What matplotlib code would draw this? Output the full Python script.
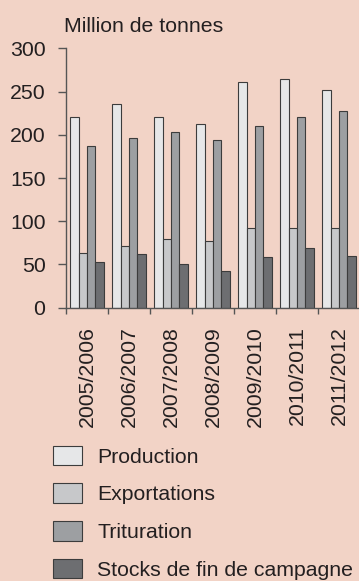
import numpy as np
import matplotlib
matplotlib.use('Agg')
import matplotlib.pyplot as plt

# Données (millions de tonnes)
campagnes = ['2005/2006', '2006/2007', '2007/2008', '2008/2009',
             '2009/2010', '2010/2011', '2011/2012']
production = [221, 236, 221, 212, 261, 264, 252]
exportations = [63, 71, 79, 77, 92, 92, 92]
trituration = [187, 196, 203, 194, 210, 221, 228]
stocks = [53, 62, 51, 42, 59, 69, 60]

series = [production, exportations, trituration, stocks]
noms = ['Production', 'Exportations', 'Trituration', 'Stocks de fin de campagne']
couleurs = ['#e6e7e8', '#c7c8ca', '#9d9fa2', '#6d6e71']

bg = '#f2d3c6'
txt = '#231f20'
edge = '#3c3c3c'
fs = 15.3

plt.rcParams['font.family'] = ['Liberation Sans', 'DejaVu Sans']

W, H = 359, 581
fig = plt.figure(figsize=(W / 100, H / 100), dpi=100, facecolor=bg)
ax = fig.add_axes([66 / W, (H - 307.7) / H, 294 / W, 259.4 / H])
ax.set_facecolor(bg)

x = np.arange(len(campagnes))
bar_width = 0.2
for i, (vals, nom, col) in enumerate(zip(series, noms, couleurs)):
    ax.bar(x - 0.3 + i * bar_width, vals, bar_width, color=col, edgecolor=edge,
           linewidth=0.8, label=nom)

ax.set_xlim(-0.5, len(campagnes) - 0.5)
ax.set_ylim(0, 300)
ax.set_yticks(np.arange(0, 301, 50))
ax.tick_params(axis='y', length=5.8, width=1, color='#555555', pad=9.0,
               labelsize=fs, labelcolor=txt)

# libellés au centre, petits traits aux limites des campagnes
ax.set_xticks(x)
ax.set_xticklabels(campagnes, rotation=90, fontsize=fs, color=txt)
ax.tick_params(axis='x', which='major', length=0, pad=13.5)
ax.set_xticks(x - 0.5, minor=True)
ax.tick_params(axis='x', which='minor', length=4.3, width=1, color='#555555')

for s in ['top', 'right']:
    ax.spines[s].set_visible(False)
for s in ['left', 'bottom']:
    ax.spines[s].set_color('#555555')
    ax.spines[s].set_linewidth(1)

fig.text(64 / W, 1 - 31.7 / H, 'Million de tonnes', fontsize=fs, color=txt,
         ha='left', va='baseline')

handles, labels = ax.get_legend_handles_labels()
leg = fig.legend(handles, labels, loc='upper left',
                 bbox_to_anchor=(52.7 / W, 1 - 445.7 / H),
                 frameon=False, fontsize=fs, borderpad=0, borderaxespad=0,
                 handlelength=1.4, handleheight=1.05, handletextpad=0.7,
                 labelspacing=0.78, labelcolor=txt)

fig.savefig('out.png', dpi=100, facecolor=bg)
